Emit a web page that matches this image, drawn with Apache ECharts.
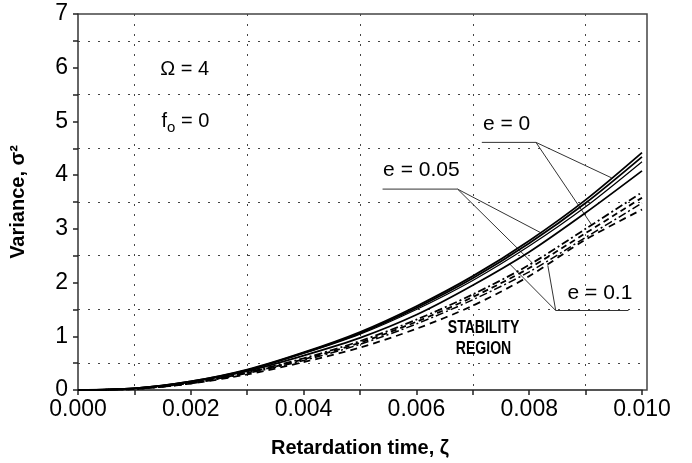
<!DOCTYPE html>
<html>
<head>
<meta charset="utf-8">
<title>Variance vs retardation time</title>
<script src="https://cdn.jsdelivr.net/npm/echarts@6/dist/echarts.min.js"></script>
<style>
    html, body { margin: 0; padding: 0; background: #fff; }
    #chart { width: 692px; height: 463px; }
</style>
</head>
<body>
<div id="chart"></div>
<script>
// 横轴: 延迟时间 ζ
const zeta = [0, 0.001, 0.002, 0.003, 0.004, 0.005, 0.006, 0.007, 0.008, 0.009, 0.010];

// 实线 (上面一组)
const solidE0   = [0, 0.03, 0.16, 0.38, 0.70, 1.08, 1.56, 2.12, 2.78, 3.54, 4.42];
const solidE05  = [0, 0.03, 0.16, 0.37, 0.69, 1.06, 1.53, 2.08, 2.73, 3.48, 4.34];
const solidE05b = [0, 0.03, 0.15, 0.37, 0.68, 1.04, 1.50, 2.04, 2.68, 3.41, 4.25];
const solidE1   = [0, 0.03, 0.15, 0.35, 0.64, 0.97, 1.40, 1.95, 2.57, 3.30, 4.08];

// 虚线 (下面一组)
const dashE0   = [0, 0.02, 0.13, 0.33, 0.59, 0.91, 1.31, 1.78, 2.33, 3.00, 3.68];
const dashE05  = [0, 0.02, 0.13, 0.32, 0.57, 0.88, 1.27, 1.73, 2.27, 2.92, 3.58];
const dashE05b = [0, 0.02, 0.12, 0.31, 0.55, 0.85, 1.23, 1.68, 2.20, 2.84, 3.48];
const dashE1   = [0, 0.02, 0.12, 0.29, 0.52, 0.79, 1.14, 1.57, 2.12, 2.80, 3.36];

const xTicks = ['0.000', '0.002', '0.004', '0.006', '0.008', '0.010'];

const FONT = '"Liberation Sans", Arial, sans-serif';

function pairs(vals) {
    return zeta.map((x, i) => [x, vals[i]]);
}

function curve(name, vals, dash, width) {
    return {
        name: name,
        type: 'line',
        data: pairs(vals),
        smooth: 0.3,
        symbol: 'none',
        silent: true,
        lineStyle: { color: '#000', width: width, type: dash }
    };
}

const chart = echarts.init(document.getElementById('chart'));

const gridLine = { show: true, lineStyle: { color: '#444', width: 1, type: [2, 8] } };

chart.setOption({
    animation: false,
    backgroundColor: '#fff',
    grid: { left: 78, top: 14, right: 50, bottom: 71 },
    xAxis: {
        type: 'value',
        min: 0,
        max: 0.010,
        interval: 0.002,
        axisLine: { lineStyle: { color: '#555', width: 2 } },
        axisTick: { show: true, length: 5, lineStyle: { color: '#222', width: 1.5 } },
        minorTick: { show: true, splitNumber: 2, length: 5, lineStyle: { color: '#222', width: 1.5 } },
        splitLine: { show: false },
        minorSplitLine: gridLine,
        axisLabel: {
            fontFamily: FONT, fontSize: 23, color: '#000', margin: 8,
            formatter: v => xTicks.find(t => Math.abs(parseFloat(t) - v) < 1e-9) || ''
        },
        name: 'Retardation time, ζ',
        nameLocation: 'middle',
        nameGap: 48,
        nameTextStyle: { fontFamily: FONT, fontSize: 20, fontWeight: 'bold', color: '#000' }
    },
    yAxis: {
        type: 'value',
        min: 0,
        max: 7,
        interval: 1,
        axisLine: { show: true, lineStyle: { color: '#333', width: 1.5 } },
        axisTick: { show: true, length: 5, lineStyle: { color: '#222', width: 1.5 } },
        minorTick: { show: true, splitNumber: 2, length: 5, lineStyle: { color: '#222', width: 1.5 } },
        splitLine: { show: false },
        minorSplitLine: gridLine,
        axisLabel: { fontFamily: FONT, fontSize: 23, color: '#000', margin: 10 },
        name: 'Variance, σ²',
        nameLocation: 'middle',
        nameGap: 50,
        nameTextStyle: { fontFamily: FONT, fontSize: 20, fontWeight: 'bold', color: '#000' }
    },
    series: [
        curve('e = 0', solidE0, 'solid', 1.8),
        curve('e = 0.05', solidE05, 'solid', 1.8),
        curve('e = 0.05 b', solidE05b, 'solid', 1.2),
        curve('e = 0.1', solidE1, 'solid', 1.8),
        curve('e = 0 dash', dashE0, [8, 3, 2, 3], 1.8),
        curve('e = 0.05 dash', dashE05, [6, 4], 1.8),
        curve('e = 0.05 b dash', dashE05b, [8, 3, 2, 3], 1.5),
        curve('e = 0.1 dash', dashE1, [7, 5], 1.8)
    ]
});

// 注释: 数据坐标 -> 像素
const px = p => chart.convertToPixel({ gridIndex: 0 }, p);

function text(pos, str, size, extra, scaleX) {
    const p = px(pos);
    return {
        type: 'text',
        x: p[0], y: p[1],
        scaleX: scaleX || 1,
        silent: true,
        style: Object.assign({
            text: str, fill: '#000', font: size + 'px ' + FONT,
            textAlign: 'left', textVerticalAlign: 'middle'
        }, extra || {})
    };
}

function seg(a, b) {
    const p = px(a), q = px(b);
    return {
        type: 'line',
        silent: true,
        shape: { x1: p[0], y1: p[1], x2: q[0], y2: q[1] },
        style: { stroke: '#333', lineWidth: 1 }
    };
}

// 边框 (上边, 右边)
const tl = px([0, 7]);
const br = px([0.010, 0]);
const frameRight = br[0] + 5;

const narrow = 'bold 18px ' + FONT;

chart.setOption({
    graphic: [
        {
            type: 'polyline', silent: true,
            shape: { points: [[tl[0], tl[1]], [frameRight, tl[1]], [frameRight, br[1]], [br[0], br[1]]] },
            style: { stroke: '#444', lineWidth: 1.5, fill: null }
        },
        text([0.00146, 5.96], 'Ω = 4', 20),
        text([0.00148, 5.0], '{a|f}{s|o}{a| = 0}', 20, {
            rich: {
                a: { font: '20px ' + FONT, fill: '#000' },
                s: { font: '15px ' + FONT, fill: '#000', padding: [12, 0, 0, 0] }
            }
        }),
        // e = 0
        text([0.00718, 4.94], 'e = 0', 21),
        seg([0.00716, 4.61], [0.00812, 4.61]),
        seg([0.00812, 4.61], [0.00946, 3.95]),
        seg([0.00812, 4.61], [0.00911, 3.07]),
        // e = 0.05
        text([0.00541, 4.10], 'e = 0.05', 21),
        seg([0.00540, 3.74], [0.00673, 3.74]),
        seg([0.00673, 3.74], [0.00822, 2.92]),
        seg([0.00673, 3.74], [0.00806, 2.36]),
        // e = 0.1
        text([0.00868, 1.80], 'e = 0.1', 21),
        seg([0.00847, 1.48], [0.00976, 1.48]),
        seg([0.00847, 1.48], [0.00765, 2.35]),
        seg([0.00847, 1.48], [0.00833, 2.32]),
        // 稳定区 (窄体字)
        text([0.00719, 1.15], 'STABILITY', 18, { textAlign: 'center', font: narrow }, 0.78),
        text([0.00719, 0.77], 'REGION', 18, { textAlign: 'center', font: narrow }, 0.78)
    ]
});
</script>
</body>
</html>
